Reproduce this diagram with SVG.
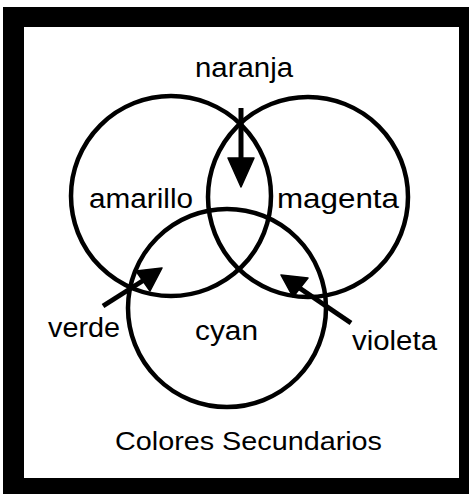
<svg xmlns="http://www.w3.org/2000/svg" width="469" height="494" viewBox="0 0 469 494">
<style>
.ring{fill:none;stroke:#000;stroke-width:4.5}
.lbl{font-family:"Liberation Sans",Arial,sans-serif;font-size:27px;fill:#000}
.ttl{font-family:"Liberation Sans",Arial,sans-serif;font-size:25px;fill:#000}
.ln{stroke:#000;stroke-width:5;fill:none}
.hd{fill:#000;stroke:#000;stroke-width:1.5;stroke-linejoin:round}
</style>
<rect x="0" y="0" width="469" height="494" fill="#fff"/>
<g id="frame">
<rect x="3" y="7" width="466" height="487" fill="#000"/>
<rect x="24" y="27" width="435" height="451" fill="#fff"/>
</g>
<g id="amarillo">
<circle class="ring" cx="171" cy="196" r="100"/>
<text class="lbl" x="89" y="208" textLength="104" lengthAdjust="spacingAndGlyphs">amarillo</text>
</g>
<g id="magenta">
<circle class="ring" cx="308" cy="197" r="100"/>
<text class="lbl" x="277" y="208" textLength="122" lengthAdjust="spacingAndGlyphs">magenta</text>
</g>
<g id="cyan">
<circle class="ring" cx="227" cy="308" r="99"/>
<text class="lbl" x="195" y="340" textLength="63" lengthAdjust="spacingAndGlyphs">cyan</text>
</g>
<g id="naranja">
<text class="lbl" x="195" y="77" textLength="98" lengthAdjust="spacingAndGlyphs">naranja</text>
</g>
<g id="verde">
<text class="lbl" x="48" y="337" textLength="72" lengthAdjust="spacingAndGlyphs">verde</text>
</g>
<g id="violeta">
<text class="lbl" x="352" y="350" textLength="85" lengthAdjust="spacingAndGlyphs">violeta</text>
</g>
<g id="title">
<text class="ttl" x="115" y="450" textLength="267" lengthAdjust="spacingAndGlyphs">Colores Secundarios</text>
</g>
<g id="connectors">
<line class="ln" x1="241" y1="108" x2="241" y2="160"/>
<polygon class="hd" points="228,158 254,158 241,187"/>
<line class="ln" x1="103" y1="306" x2="144" y2="280"/>
<polygon class="hd" points="162,268 136,271 150,291"/>
<line class="ln" x1="351" y1="323" x2="298" y2="287"/>
<polygon class="hd" points="281,275 308,278 293,297"/>
</g>
</svg>
